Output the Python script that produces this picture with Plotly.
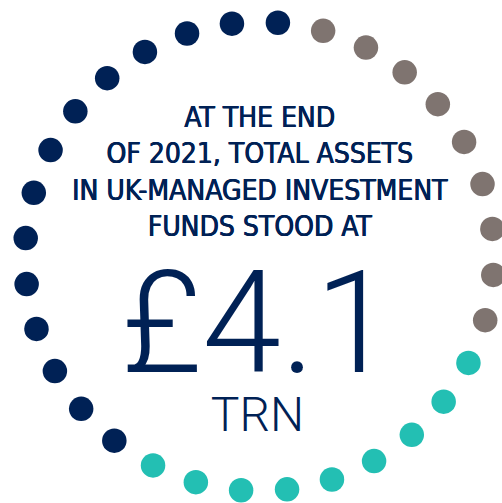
import plotly.graph_objects as go

# dot ring, clockwise from the top
segments = ["grey", "teal", "navy"]
dot_counts = [9, 9, 14]
seg_colors = ["#7f7470", "#23bfb3", "#002155"]

headline = ["AT THE END", "OF 2021, TOTAL ASSETS", "IN UK-MANAGED INVESTMENT", "FUNDS STOOD AT"]
big_value = "£4.1"
unit = "TRN"

total = sum(dot_counts)
step = 360 / total
start = 4.5

fig = go.Figure()
k = 1
for name, n, col in zip(segments, dot_counts, seg_colors):
    fig.add_trace(go.Scatterpolar(
        r=[1] * n,
        theta=[start + (k + i) * step for i in range(n)],
        mode="markers",
        marker=dict(size=24.5, color=col),
        name=name,
        cliponaxis=False,
        hoverinfo="skip",
    ))
    k += n

navy = seg_colors[2]
ann = [
    dict(
        x=259.5 / 502, y=1 - 172 / 503, xref="paper", yref="paper",
        text="<br>".join(headline), showarrow=False, xanchor="center", yanchor="middle",
        font=dict(family="DejaVu Sans Condensed", size=28, color=navy,
                  shadow="0.5px 0 0 #002155, -0.3px 0 0 #002155"),
    ),
    dict(
        x=257 / 502, y=1 - 341 / 503, xref="paper", yref="paper",
        text="<span style='font-size:142px'>" + big_value + "</span><br><span style='font-size:48px'>" + unit + "</span>",
        showarrow=False, xanchor="center", yanchor="middle",
        font=dict(family="Roboto, Lato", size=45.5, color=navy, weight=300),
    ),
]

fig.update_layout(
    width=502, height=503,
    margin=dict(l=0, r=0, t=0, b=0),
    paper_bgcolor="white",
    showlegend=False,
    annotations=ann,
    polar=dict(
        domain=dict(x=[25 / 502, 494 / 502], y=[12 / 503, 481 / 503]),
        bgcolor="white",
        radialaxis=dict(visible=False, range=[0, 1]),
        angularaxis=dict(visible=False, rotation=90, direction="clockwise"),
    ),
)

fig.write_html("out.html", config={"displayModeBar": False},
               post_script="document.body.style.margin='0';")
